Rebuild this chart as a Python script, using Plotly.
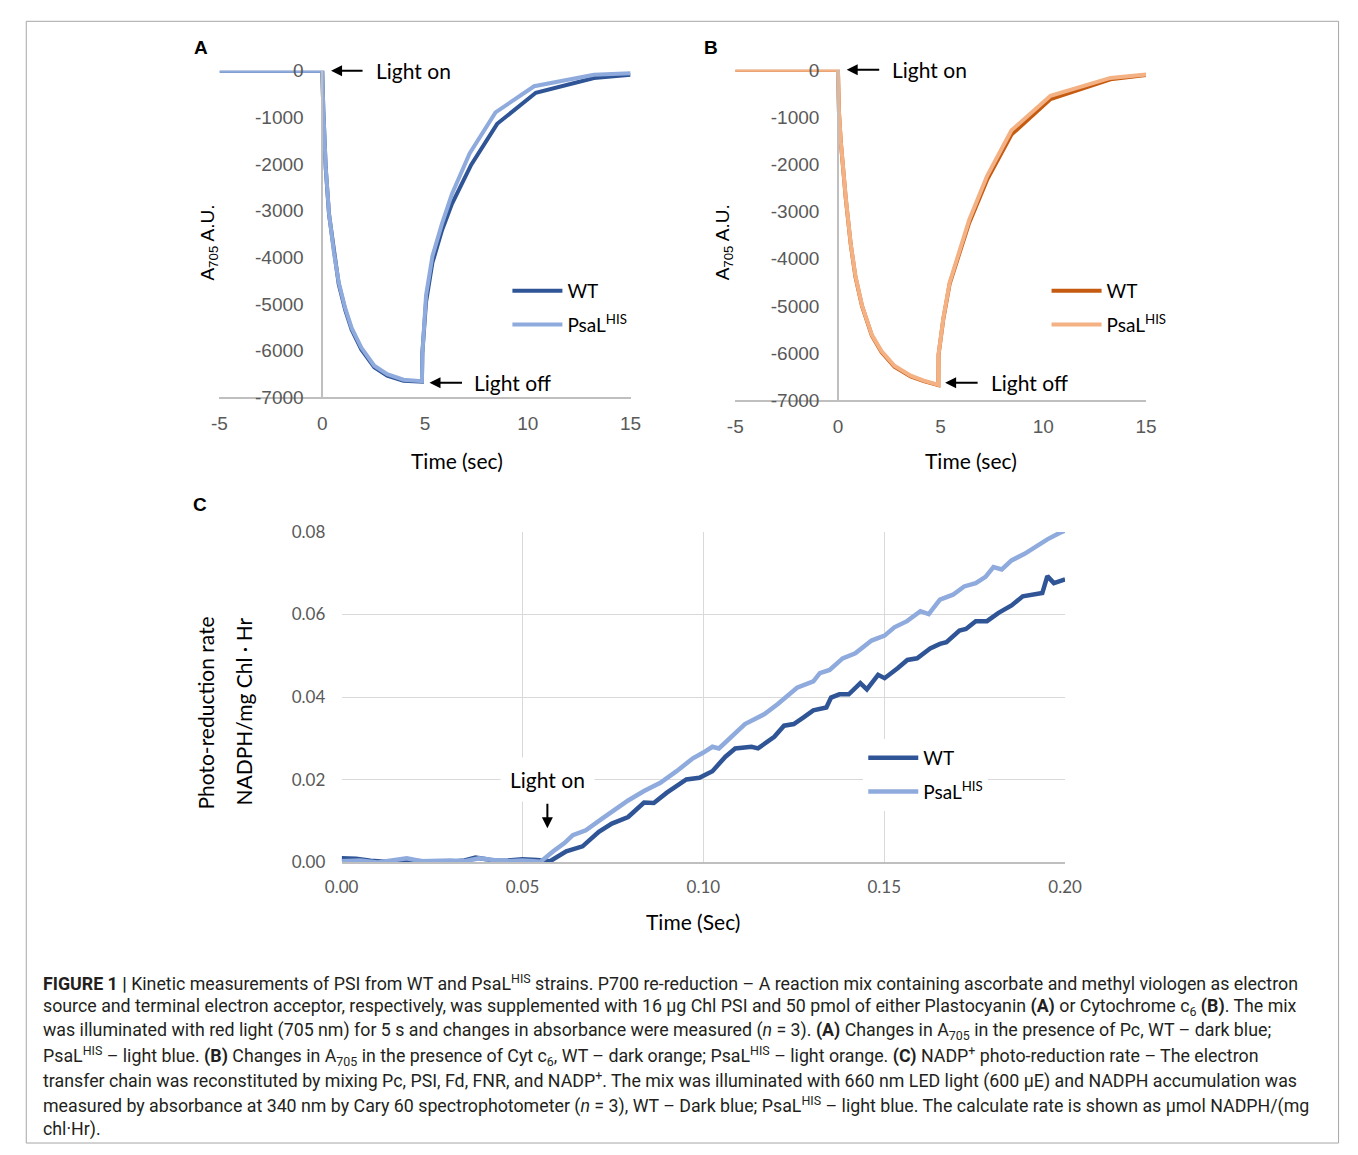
import plotly.graph_objects as go

W, H = 1358, 1155

def px(x):
    return x / W

def py(y):
    return 1 - y / H

# ---------------- data ----------------
# Panel A (Plastocyanin)
tA_psal = [-5, 0, 0.05, 0.11, 0.17, 0.33, 0.57, 0.80, 1.12, 1.43, 1.90, 2.53, 3.16, 3.95, 4.85,
           4.87, 5.05, 5.36, 5.83, 6.31, 7.17, 8.43, 10.31, 13.22, 15.0]
yA_psal = [0, 0, -820, -1730, -2080, -3060, -3900, -4530, -5090, -5510, -5930, -6320, -6500, -6620, -6650,
           -6075, -4810, -3970, -3270, -2640, -1770, -890, -330, -84, -50]
tA_wt = [-5, 0, 0.05, 0.11, 0.17, 0.33, 0.57, 0.80, 1.12, 1.43, 1.90, 2.53, 3.16, 3.95, 4.85,
         4.87, 5.05, 5.36, 5.83, 6.31, 7.25, 8.51, 10.39, 13.22, 15.0]
yA_wt = [0, 0, -820, -1730, -2090, -3080, -3930, -4570, -5130, -5550, -5970, -6350, -6530, -6640, -6660,
         -6050, -4950, -4110, -3410, -2850, -2010, -1135, -470, -155, -85]

# Panel B (Cytochrome c6)
tB_psal = [-5, 0, 0.05, 0.14, 0.38, 0.62, 0.85, 1.17, 1.65, 2.12, 2.75, 3.54, 4.18, 4.89,
           4.90, 5.13, 5.44, 5.92, 6.39, 7.26, 8.45, 10.35, 13.27, 15.0]
yB_psal = [0, 0, -900, -1520, -2700, -3670, -4360, -4985, -5610, -5955, -6265, -6475, -6580, -6670,
           -6020, -5260, -4500, -3810, -3180, -2250, -1280, -550, -170, -100]
tB_wt = tB_psal
yB_wt = [0, 0, -900, -1530, -2720, -3690, -4380, -5000, -5630, -5975, -6285, -6490, -6590, -6675,
         -6030, -5280, -4530, -3860, -3240, -2330, -1370, -620, -200, -110]

# Panel C (NADP+ photo-reduction)
tC_psal = [0.000, 0.005, 0.010, 0.014, 0.018, 0.022, 0.026, 0.030, 0.034, 0.038, 0.042, 0.046, 0.050,
           0.055, 0.0585, 0.0616, 0.0639, 0.0675, 0.0720, 0.0760, 0.0792, 0.0836, 0.0881, 0.0926,
           0.0971, 0.1000, 0.1025, 0.1043, 0.1079, 0.1115, 0.1169, 0.1205, 0.1259, 0.1304, 0.1322,
           0.1349, 0.1385, 0.1420, 0.1465, 0.1501, 0.1528, 0.1563, 0.1600, 0.1623, 0.1654, 0.1690,
           0.1721, 0.1753, 0.1780, 0.1802, 0.1825, 0.1852, 0.1888, 0.1924, 0.1951, 0.1986, 0.2000]
yC_psal = [0.0003, 0.0005, 0.0000, 0.0004, 0.0010, 0.0003, 0.0004, 0.0005, 0.0003, 0.0010, 0.0006, 0.0003, 0.0005,
           0.0002, 0.0027, 0.0047, 0.0066, 0.0078, 0.0106, 0.0130, 0.0150, 0.0173, 0.0193, 0.0221,
           0.0252, 0.0266, 0.0280, 0.0276, 0.0304, 0.0335, 0.0359, 0.0383, 0.0423, 0.0438, 0.0458,
           0.0466, 0.0494, 0.0506, 0.0537, 0.0549, 0.0569, 0.0584, 0.0608, 0.0601, 0.0636, 0.0648,
           0.0668, 0.0676, 0.0691, 0.0715, 0.0709, 0.0731, 0.0747, 0.0767, 0.0782, 0.0798, 0.0803]
tC_wt = [0.000, 0.004, 0.008, 0.012, 0.016, 0.020, 0.025, 0.030, 0.034, 0.037, 0.040, 0.042, 0.046,
         0.050, 0.054, 0.0576, 0.0621, 0.0666, 0.0711, 0.0747, 0.0792, 0.0836, 0.0863, 0.0899,
         0.0953, 0.0989, 0.1025, 0.1061, 0.1088, 0.1133, 0.1151, 0.1196, 0.1223, 0.1250, 0.1277,
         0.1304, 0.1340, 0.1353, 0.1376, 0.1402, 0.1434, 0.1452, 0.1483, 0.1501, 0.1537, 0.1564,
         0.1591, 0.1627, 0.1654, 0.1672, 0.1708, 0.1726, 0.1753, 0.1784, 0.1816, 0.1852, 0.1883,
         0.1915, 0.1937, 0.1951, 0.1969, 0.2000]
yC_wt = [0.0010, 0.0009, 0.0004, 0.0002, 0.0003, 0.0004, 0.0002, 0.0002, 0.0005, 0.0012, 0.0008, 0.0004, 0.0005,
         0.0008, 0.0006, 0.0003, 0.0027, 0.0039, 0.0074, 0.0094, 0.0110, 0.0145, 0.0144, 0.0169,
         0.0201, 0.0205, 0.0221, 0.0256, 0.0276, 0.0280, 0.0276, 0.0304, 0.0331, 0.0335, 0.0351,
         0.0368, 0.0375, 0.0399, 0.0407, 0.0407, 0.0434, 0.0419, 0.0454, 0.0446, 0.0470, 0.0490,
         0.0494, 0.0518, 0.0529, 0.0533, 0.0561, 0.0565, 0.0584, 0.0584, 0.0604, 0.0622, 0.0644,
         0.0648, 0.0652, 0.0693, 0.0676, 0.0685]

ab_xticks = [-5, 0, 5, 10, 15]
ab_xticktext = ["-5", "0", "5", "10", "15"]
ab_yticks = [0, -1000, -2000, -3000, -4000, -5000, -6000, -7000]
ab_yticktext = ["0", "-1000", "-2000", "-3000", "-4000", "-5000", "-6000", "-7000"]
c_xticks = [0.00, 0.05, 0.10, 0.15, 0.20]
c_yticks = [0.00, 0.02, 0.04, 0.06, 0.08]

names = ["WT", "PsaL<sup>HIS</sup>"]
blue_dark, blue_light = "#2F5597", "#8FAADC"
orange_dark, orange_light = "#C55A11", "#F4B183"

# ---------------- figure ----------------
fig = go.Figure()

fig.add_trace(go.Scatter(x=tA_wt, y=yA_wt, mode="lines", name=names[0],
                         line=dict(color=blue_dark, width=4), xaxis="x", yaxis="y",
                         legend="legend", legendgroup="a1"))
fig.add_trace(go.Scatter(x=tA_psal, y=yA_psal, mode="lines", name=names[1],
                         line=dict(color=blue_light, width=4), xaxis="x", yaxis="y",
                         legend="legend", legendgroup="a2"))
fig.add_trace(go.Scatter(x=tB_wt, y=yB_wt, mode="lines", name=names[0],
                         line=dict(color=orange_dark, width=4), xaxis="x2", yaxis="y2",
                         legend="legend2", legendgroup="b1"))
fig.add_trace(go.Scatter(x=tB_psal, y=yB_psal, mode="lines", name=names[1],
                         line=dict(color=orange_light, width=4), xaxis="x2", yaxis="y2",
                         legend="legend2", legendgroup="b2"))
fig.add_trace(go.Scatter(x=tC_wt, y=yC_wt, mode="lines", name=names[0],
                         line=dict(color=blue_dark, width=4.5), xaxis="x3", yaxis="y3",
                         legend="legend3", legendgroup="c1"))
fig.add_trace(go.Scatter(x=tC_psal, y=yC_psal, mode="lines", name=names[1],
                         line=dict(color=blue_light, width=4.5), xaxis="x3", yaxis="y3",
                         legend="legend3", legendgroup="c2"))

arial = "Liberation Sans, Arial, sans-serif"
calibri = "Lato, Carlito, Calibri, sans-serif"
tickgray = "#595959"
axgray = "#BFBFBF"
gridgray = "#D9D9D9"

def ab_axes(x0, x1, x0px, ytop, ybot):
    xa = dict(domain=[px(x0), px(x1)], range=[-5, 15], showline=True, linecolor=axgray, linewidth=1.5,
              showgrid=False, zeroline=False, tickmode="array", tickvals=ab_xticks, ticktext=ab_xticktext,
              tickfont=dict(family=arial, size=19, color=tickgray), ticks="outside", ticklen=8,
              tickcolor="rgba(0,0,0,0)")
    ya = dict(domain=[py(ybot), py(ytop)], range=[-7000, 0], anchor="free", position=px(x0px),
              showline=True, linecolor=axgray, linewidth=1.5, showgrid=False, zeroline=False,
              tickmode="array", tickvals=ab_yticks, ticktext=ab_yticktext,
              tickfont=dict(family=arial, size=19, color=tickgray), ticks="outside", ticklen=14,
              tickcolor="rgba(0,0,0,0)")
    return xa, ya

xa1, ya1 = ab_axes(207.7, 629.3, 313, 61, 394)
xa2, ya2 = ab_axes(736.7, 1158.0, 842, 60, 397)
xa1["anchor"] = "y"
xa2["anchor"] = "y2"

xa3 = dict(domain=[px(333), px(1075)], range=[0, 0.2], anchor="y3", showline=True, linecolor=axgray,
           linewidth=1.5, showgrid=True, gridcolor=gridgray, gridwidth=1.2, zeroline=False,
           tickmode="array", tickvals=c_xticks, tickformat=".2f",
           tickfont=dict(family=calibri, size=17, color=tickgray), ticks="outside", ticklen=8,
           tickcolor="rgba(0,0,0,0)")
ya3 = dict(domain=[py(868), py(531)], range=[0, 0.08], anchor="x3", showline=False,
           showgrid=True, gridcolor=gridgray, gridwidth=1.2, zeroline=False,
           tickmode="array", tickvals=c_yticks, tickformat=".2f",
           tickfont=dict(family=calibri, size=17, color=tickgray), ticks="outside", ticklen=12,
           tickcolor="rgba(0,0,0,0)")

leg_font = dict(family=calibri, size=19, color="#000000")

fig.update_layout(
    width=W, height=H, margin=dict(l=0, r=0, t=0, b=0),
    paper_bgcolor="white", plot_bgcolor="white",
    xaxis=xa1, yaxis=ya1, xaxis2=xa2, yaxis2=ya2, xaxis3=xa3, yaxis3=ya3,
    legend=dict(x=px(503), y=py(266), xanchor="left", yanchor="top", font=leg_font,
                bgcolor="rgba(255,255,255,0)", tracegroupgap=6, itemwidth=50),
    legend2=dict(x=px(1056), y=py(266), xanchor="left", yanchor="top", font=leg_font,
                 bgcolor="rgba(255,255,255,0)", tracegroupgap=6, itemwidth=50),
    legend3=dict(x=px(868), y=py(742), xanchor="left", yanchor="top", font=leg_font,
                 bgcolor="white", tracegroupgap=6, itemwidth=50),
    showlegend=True,
)

ann = []
txt_font = dict(family=calibri, size=21, color="#000000")

def arrow(xr, yr, x, y, ax, ay):
    ann.append(dict(xref=xr, yref=yr, x=x, y=y, ax=ax, ay=ay, text="", showarrow=True,
                    arrowhead=2, arrowsize=1.1, arrowwidth=2, arrowcolor="#000000", standoff=0))

def label(xr, yr, x, y, text, xanchor="left", **kw):
    ann.append(dict(xref=xr, yref=yr, x=x, y=y, text=text, showarrow=False, xanchor=xanchor,
                    yanchor="middle", font=txt_font, **kw))

# Panel A annotations
sA = 333 / 7000.0
arrow("x", "y", (322 - 313) / 21.08, 0, 33, 0)
label("x", "y", (366 - 313) / 21.08, 0, "Light on")
arrow("x", "y", (423 - 313) / 21.08, -(379 - 61) / sA, 34, 0)
label("x", "y", (467 - 313) / 21.08, -(379 - 61) / sA, "Light off")
# Panel B annotations
sB = 337 / 7000.0
arrow("x2", "y2", (851 - 842) / 21.08, 0, 34, 0)
label("x2", "y2", (895 - 842) / 21.08, 0, "Light on")
arrow("x2", "y2", (952 - 842) / 21.08, -(379 - 60) / sB, 34, 0)
label("x2", "y2", (997 - 842) / 21.08, -(379 - 60) / sB, "Light off")
# Panel C annotations
sCx, sCy = 742 / 0.2, 337 / 0.08
arrow("x3", "y3", (544 - 333) / sCx, (868 - 833) / sCy, 0, -26)
label("x3", "y3", (544 - 333) / sCx, (868 - 783) / sCy, "Light on", xanchor="center",
      bgcolor="white", borderpad=9)

# axis titles
def ptext(x, y, text, font, angle=0, xanchor="center", yanchor="middle"):
    ann.append(dict(xref="paper", yref="paper", x=px(x), y=py(y), text=text, showarrow=False,
                    xanchor=xanchor, yanchor=yanchor, font=font, textangle=angle))

title_font = dict(family=calibri, size=21, color="#000000")
ptext(451, 458, "Time (sec)", title_font)
ptext(979, 458, "Time (sec)", title_font)
ptext(693, 928, "Time (Sec)", title_font)
ytitle_font = dict(family=arial, size=19, color="#000000")
ptext(196, 236, "A<sub>705</sub> A.U.", ytitle_font, angle=-90)
ptext(725, 236, "A<sub>705</sub> A.U.", ytitle_font, angle=-90)
ptext(193, 716, "Photo-reduction rate", title_font, angle=-90)
ptext(232, 714, "NADPH/mg Chl ∙ Hr", title_font, angle=-90)

# panel letters
letter_font = dict(family=arial, size=19, color="#000000")
ptext(189, 37, "<b>A</b>", letter_font)
ptext(712, 37, "<b>B</b>", letter_font)
ptext(188, 503, "<b>C</b>", letter_font)

# caption
cap_font = dict(family="Roboto, Liberation Sans, sans-serif", size=17.8, color="#231F20")
caption = [
    "<b>FIGURE 1 |</b> Kinetic measurements of PSI from WT and PsaL<sup>HIS</sup> strains. P700 re-reduction – A reaction mix containing ascorbate and methyl viologen as electron",
    "source and terminal electron acceptor, respectively, was supplemented with 16 μg Chl PSI and 50 pmol of either Plastocyanin <b>(A)</b> or Cytochrome c<sub>6</sub> <b>(B)</b>. The mix",
    "was illuminated with red light (705 nm) for 5 s and changes in absorbance were measured (<i>n</i> = 3). <b>(A)</b> Changes in A<sub>705</sub> in the presence of Pc, WT – dark blue;",
    "PsaL<sup>HIS</sup> – light blue. <b>(B)</b> Changes in A<sub>705</sub> in the presence of Cyt c<sub>6</sub>, WT – dark orange; PsaL<sup>HIS</sup> – light orange. <b>(C)</b> NADP<sup>+</sup> photo-reduction rate – The electron",
    "transfer chain was reconstituted by mixing Pc, PSI, Fd, FNR, and NADP<sup>+</sup>. The mix was illuminated with 660 nm LED light (600 μE) and NADPH accumulation was",
    "measured by absorbance at 340 nm by Cary 60 spectrophotometer (<i>n</i> = 3), WT – Dark blue; PsaL<sup>HIS</sup> – light blue. The calculate rate is shown as μmol NADPH/(mg",
    "chl·Hr).",
]
for i, line in enumerate(caption):
    ptext(25, 990 + 25 * i, line, cap_font, xanchor="left")

fig.update_layout(annotations=ann)

# figure frame
fig.add_shape(type="rect", xref="paper", yref="paper", x0=px(9.5), x1=px(1355.5), y0=py(1154), y1=py(10.5),
              line=dict(color="#A6A6A6", width=1), fillcolor="rgba(0,0,0,0)", layer="below")

fig.write_html("out.html", config={"displayModeBar": False},
               post_script="document.body.style.margin='0';document.body.style.overflow='hidden';")
